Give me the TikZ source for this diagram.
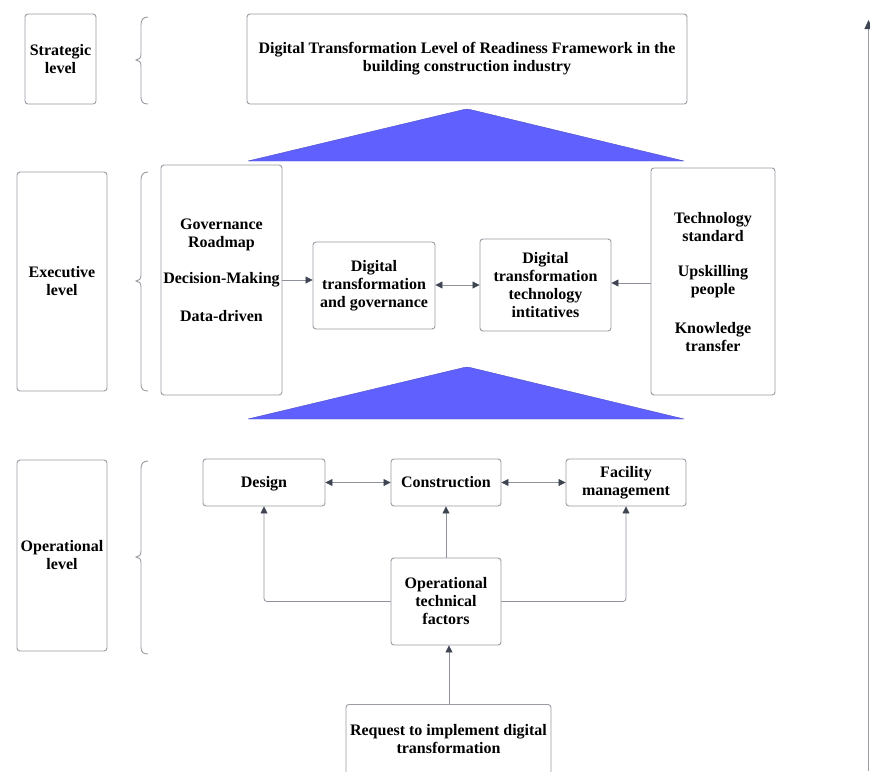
\documentclass[tikz,border=0pt]{standalone}
\usepackage{fontspec}
\setmainfont{Liberation Serif}
\usetikzlibrary{arrows.meta}
\definecolor{boxline}{HTML}{9A9BA3}
\definecolor{arrline}{HTML}{8E929B}
\definecolor{arrdark}{HTML}{3E4451}
\definecolor{triblue}{HTML}{6060FE}
\tikzset{
  txt/.style={font=\fontsize{16}{18}\selectfont\bfseries, align=center},
  box/.style={draw=boxline, line width=0.9pt, rounded corners=3pt, fill=white, txt, inner sep=0pt},
  conn/.style={draw=arrline, line width=0.8pt, -{Triangle[length=7pt,width=7pt,color=arrdark]}},
  dconn/.style={draw=arrline, line width=0.8pt, {Triangle[length=7pt,width=7pt,color=arrdark]}-{Triangle[length=7pt,width=7pt,color=arrdark]}},
  bracel/.style={draw=boxline, line width=0.9pt},
  tri/.style={fill=triblue, draw=triblue!80!black, line width=0.4pt, line join=round}
}
\begin{document}
\begin{tikzpicture}[x=1pt,y=-1pt]
\useasboundingbox (0,0) rectangle (870,771);
% level boxes
\node[box, minimum width=71pt, minimum height=90pt] (strat) at (60.5,59) {Strategic\\level};
\node[box, minimum width=90pt, minimum height=219pt] (exec) at (62,281.5) {Executive\\level};
\node[box, minimum width=90pt, minimum height=191pt] (oper) at (62,555.5) {Operational\\level};
% braces
\draw[bracel] (148,17) .. controls (143,17) and (141,20) .. (141,25) -- (141,54) .. controls (141,58) and (139,60) .. (136,60) .. controls (139,60) and (141,62) .. (141,66) -- (141,97) .. controls (141,102) and (143,104) .. (148,104);
\draw[bracel] (148,172) .. controls (143,172) and (141,175) .. (141,180) -- (141,275) .. controls (141,279) and (139,281) .. (136,281) .. controls (139,281) and (141,283) .. (141,287) -- (141,384) .. controls (141,389) and (143,391) .. (148,391);
\draw[bracel] (148,461) .. controls (143,461) and (141,464) .. (141,469) -- (141,551) .. controls (141,555) and (139,557) .. (136,557) .. controls (139,557) and (141,559) .. (141,563) -- (141,647) .. controls (141,652) and (143,654) .. (148,654);
% top
\node[box, minimum width=440pt, minimum height=90pt] (top) at (467,59) {Digital Transformation Level of Readiness Framework in the\\building construction industry};
\filldraw[tri] (248,161) -- (464,109.5) .. controls (466,109) and (468,109) .. (470,109.5) -- (684,161) -- cycle;
% executive
\node[box, minimum width=121pt, minimum height=230pt] (gov) at (221.5,280) {};
\node[txt] (govt) at (221.5,235) {Governance\\Roadmap};
\node[txt] (govd) at (221.5,280) {Decision-Making};
\node[txt] (govr) at (221.5,316) {Data-driven};
\node[box, minimum width=122pt, minimum height=87pt] (dtg) at (374,285.5) {Digital\\transformation\\and governance};
\node[box, minimum width=131pt, minimum height=92pt] (dtti) at (545.5,285) {Digital\\transformation\\technology\\intitatives};
\node[box, minimum width=124pt, minimum height=227pt] (tech) at (713,281.5) {};
\node[txt] (techa) at (713,227) {Technology\\standard};
\node[txt] (techb) at (713,282) {Upskilling\\people};
\node[txt] (techc) at (713,337) {Knowledge\\transfer};
\coordinate (govout) at (gov.east |- govd);
\coordinate (dtgin) at (dtg.west |- govd);
\draw[conn] (govout) -- (dtgin);
\draw[dconn] (dtg.east |- 0,285) -- (dtti.west |- 0,285);
\draw[conn] (tech.west |- 0,283) -- (dtti.east |- 0,283);
\filldraw[tri] (248,419) -- (464,367.5) .. controls (466,367) and (468,367) .. (470,367.5) -- (684,419) -- cycle;
% operational
\node[box, minimum width=122pt, minimum height=47pt] (des) at (264,482.5) {};
\node[txt] (dest) at (264,484) {Design};
\node[box, minimum width=110pt, minimum height=47pt] (con) at (446,482.5) {Construction};
\node[box, minimum width=120pt, minimum height=47pt] (fac) at (626,482.5) {Facility\\management};
\node[box, minimum width=110pt, minimum height=87pt] (otf) at (446,601.5) {Operational\\technical\\factors};
\node[box, minimum width=205pt, minimum height=90pt, anchor=north] (req) at (448.5,704) {};
\node[txt] (reqt) at (448.5,739) {Request to implement digital\\transformation};
\draw[dconn] (des.east) -- (con.west);
\draw[dconn] (con.east) -- (fac.west);
\draw[conn] (otf.north) -- (con.south);
\draw[conn, rounded corners=3pt] (otf.west) -| (des.south);
\draw[conn, rounded corners=3pt] (otf.east) -| (fac.south);
\draw[conn] (req.north -| otf.south) ++(3,0) coordinate (rq) (rq) -- (rq |- otf.south);
% right axis arrow
\coordinate (axb) at (868.5,771);
\coordinate (axt) at (868.5,20);
\draw[draw=boxline, line width=1pt, -{Triangle[length=9pt,width=8pt,color=arrdark]}] (axb) -- (axt);
\end{tikzpicture}
\end{document}
